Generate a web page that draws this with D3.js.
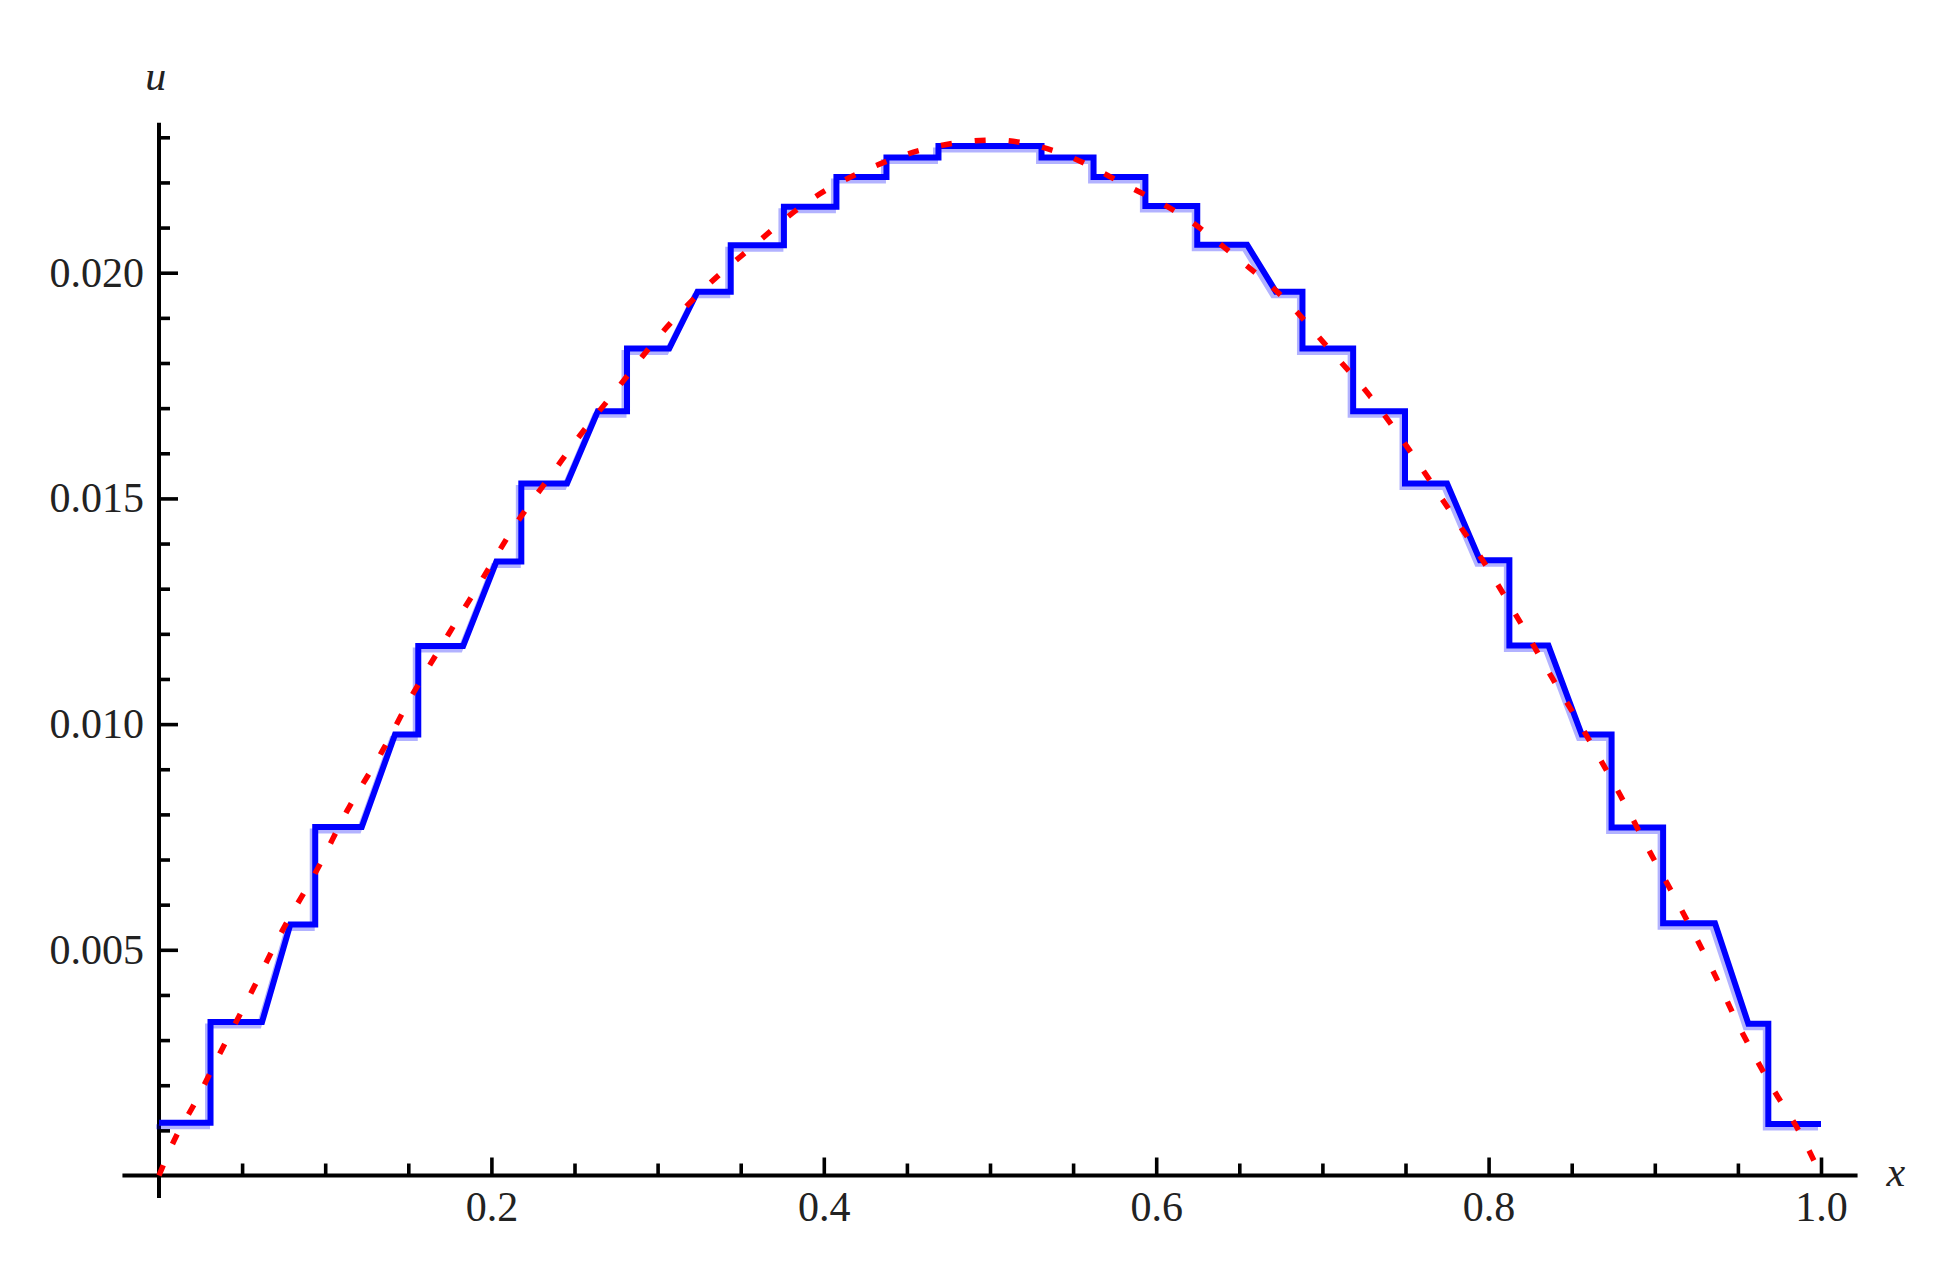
<!DOCTYPE html>
<html>
<head>
<meta charset="utf-8">
<script src="https://cdn.jsdelivr.net/npm/d3@7"></script>
<style>
  body { margin: 0; background: #fff; }
  svg text { font-family: "Liberation Serif", "DejaVu Serif", serif; fill: #222; }
</style>
</head>
<body>
<script>
// step solution u(x) (blue) and reference curve (red dashed)
const WIDTH = 1941;
const HEIGHT = 1265;

const stepX = [0, 0.031, 0.031, 0.062, 0.079, 0.094, 0.094, 0.122, 0.142, 0.156,
  0.156, 0.183, 0.203, 0.218, 0.218, 0.2455, 0.264, 0.2816, 0.2816, 0.307,
  0.324, 0.344, 0.344, 0.376, 0.376, 0.4076, 0.4076, 0.4377, 0.4377, 0.469,
  0.469, 0.531, 0.531, 0.5623, 0.5623, 0.5935, 0.5935, 0.6247, 0.6247, 0.6547,
  0.672, 0.688, 0.688, 0.7185, 0.7185, 0.7497, 0.7497, 0.775, 0.7948, 0.8125,
  0.8125, 0.836, 0.856, 0.874, 0.874, 0.905, 0.905, 0.9362, 0.9563, 0.9683,
  0.9683, 1.0];
const stepU = [0.00117, 0.00117, 0.0034, 0.0034, 0.00556, 0.00556, 0.00772, 0.00772, 0.00977, 0.00977,
  0.01173, 0.01173, 0.0136, 0.0136, 0.01533, 0.01533, 0.01693, 0.01693, 0.01832, 0.01832,
  0.01958, 0.01958, 0.02061, 0.02061, 0.02146, 0.02146, 0.02212, 0.02212, 0.02255, 0.02255,
  0.02281, 0.02281, 0.02255, 0.02255, 0.02212, 0.02212, 0.02148, 0.02148, 0.02062, 0.02062,
  0.01958, 0.01958, 0.01832, 0.01832, 0.01693, 0.01693, 0.01533, 0.01533, 0.01363, 0.01363,
  0.01174, 0.01174, 0.00977, 0.00977, 0.00771, 0.00771, 0.00559, 0.00559, 0.00336, 0.00336,
  0.00114, 0.00114];

const refX = [0, 0.0102, 0.020, 0.0377, 0.0574, 0.0743, 0.0959, 0.1129, 0.134, 0.152,
  0.174, 0.194, 0.2144, 0.2387, 0.2503, 0.2757, 0.3012, 0.3301, 0.3568, 0.3915,
  0.4273, 0.462, 0.5024, 0.5403, 0.5818, 0.6155, 0.6467, 0.678, 0.7022, 0.729,
  0.7544, 0.7752, 0.7995, 0.818, 0.838, 0.860, 0.879, 0.897, 0.916, 0.935,
  0.952, 0.971, 0.988, 1.0];
const refU = [0, 0.00086, 0.0015, 0.00278, 0.00419, 0.00543, 0.00683, 0.00806, 0.00938, 0.01062,
  0.01198, 0.01318, 0.01441, 0.01566, 0.01625, 0.01743, 0.01861, 0.01972, 0.02057, 0.0216,
  0.02231, 0.02275, 0.02294, 0.02268, 0.02194, 0.02127, 0.02039, 0.01939, 0.01839, 0.01725,
  0.01596, 0.01481, 0.01345, 0.01232, 0.01104, 0.00968, 0.00844, 0.00717, 0.00589, 0.00453,
  0.00321, 0.00193, 0.0009, 0];

// ticks
const xMajor = [0.2, 0.4, 0.6, 0.8, 1.0];
const xMinor = [0.05, 0.1, 0.15, 0.25, 0.3, 0.35, 0.45, 0.5, 0.55, 0.65, 0.7, 0.75, 0.85, 0.9, 0.95];
const yMajor = [0.005, 0.010, 0.015, 0.020];
const yMinor = [0.001, 0.002, 0.003, 0.004, 0.006, 0.007, 0.008, 0.009, 0.011, 0.012, 0.013,
  0.014, 0.016, 0.017, 0.018, 0.019, 0.021, 0.022, 0.023];

const svg = d3.select('body').append('svg')
    .attr('width', WIDTH)
    .attr('height', HEIGHT);

const x = d3.scaleLinear().domain([0, 1]).range([159, 1821]);
const y = d3.scaleLinear().domain([0, 0.023]).range([1175.5, 137.3]);

// axes: ticks point inward, labels outside
const xAxisMajor = d3.axisBottom(x).tickValues(xMajor).tickFormat(d3.format('.1f'))
    .tickSize(-18).tickPadding(16);
const xAxisMinor = d3.axisBottom(x).tickValues(xMinor).tickFormat('').tickSize(-12);
const yAxisMajor = d3.axisLeft(y).tickValues(yMajor).tickFormat(d3.format('.3f'))
    .tickSize(-19).tickPadding(15);
const yAxisMinor = d3.axisLeft(y).tickValues(yMinor).tickFormat('').tickSize(-11);

const styleAxis = g => {
    g.select('.domain').remove();
    g.selectAll('line').attr('stroke', '#000').attr('stroke-width', 3.6);
    g.selectAll('text').attr('font-size', 42)
        .attr('font-family', '"Liberation Serif", serif').attr('fill', '#222');
};

[xAxisMinor, xAxisMajor].forEach(a => {
    svg.append('g').attr('transform', `translate(0,${y(0)})`).call(a).call(styleAxis);
});
[yAxisMinor, yAxisMajor].forEach(a => {
    svg.append('g').attr('transform', `translate(${x(0)},0)`).call(a).call(styleAxis);
});

// axis lines
svg.append('line')
    .attr('x1', x(-0.022)).attr('x2', x(1.022))
    .attr('y1', y(0)).attr('y2', y(0))
    .attr('stroke', '#000').attr('stroke-width', 4);
svg.append('line')
    .attr('x1', x(0)).attr('x2', x(0))
    .attr('y1', y(0.02332)).attr('y2', y(-0.0005))
    .attr('stroke', '#000').attr('stroke-width', 4);

// axis labels
svg.append('text').attr('x', x(-0.002)).attr('y', 90)
    .attr('text-anchor', 'middle').attr('font-style', 'italic')
    .attr('font-size', 42).text('u');
svg.append('text').attr('x', x(1.045)).attr('y', y(0) + 10)
    .attr('text-anchor', 'middle').attr('font-style', 'italic')
    .attr('font-size', 42).text('x');

const stepData = stepX.map((d, i) => [d, stepU[i]]);
const refData = refX.map((d, i) => [d, refU[i]]);

const stepLine = d3.line().x(d => x(d[0])).y(d => y(d[1]));
const refLine = d3.line().x(d => x(d[0])).y(d => y(d[1])).curve(d3.curveMonotoneX);

// faint halo of the blue line, as in the upscaled original
svg.append('path')
    .attr('d', stepLine(stepData))
    .attr('transform', 'translate(-3,4)')
    .attr('fill', 'none')
    .attr('stroke', '#0000ff')
    .attr('stroke-opacity', 0.3)
    .attr('stroke-width', 5);

svg.append('path')
    .attr('d', stepLine(stepData))
    .attr('fill', 'none')
    .attr('stroke', '#0000ff')
    .attr('stroke-width', 6);

svg.append('path')
    .attr('d', refLine(refData))
    .attr('fill', 'none')
    .attr('stroke', '#ff0000')
    .attr('stroke-width', 5.5)
    .attr('stroke-dasharray', '11,23');
</script>
</body>
</html>
